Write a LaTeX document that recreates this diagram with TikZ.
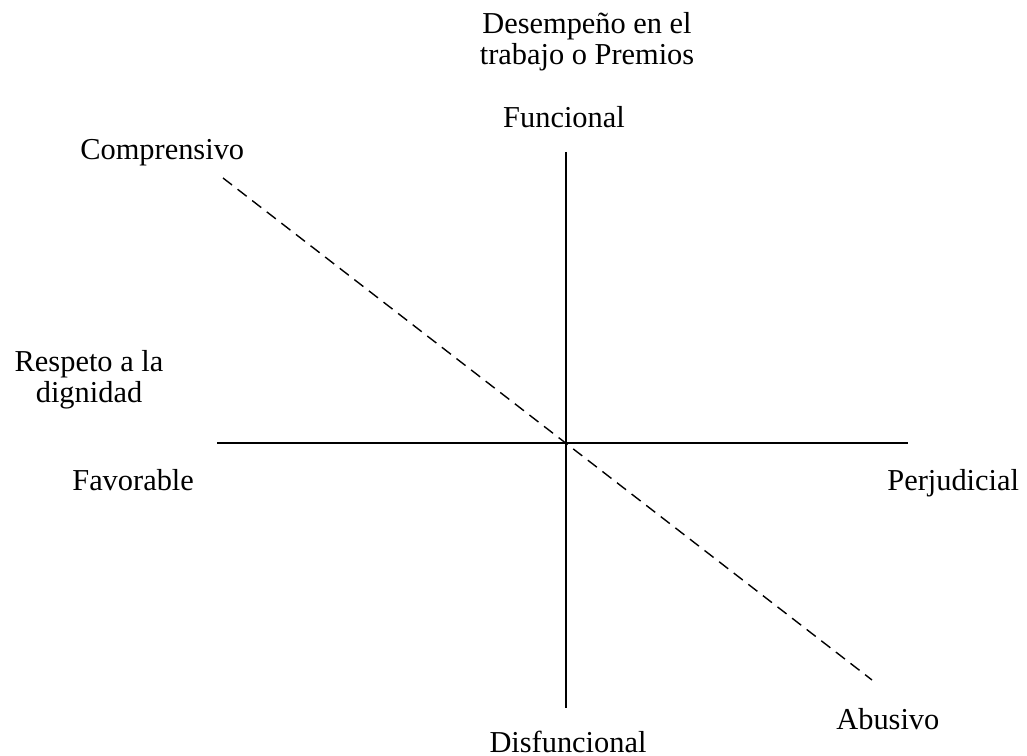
\documentclass[tikz,border=0pt]{standalone}
\usepackage{fontspec}
\setmainfont{Liberation Serif}
\usepackage{tikz}

\begin{document}
\begin{tikzpicture}[
  x=0.02cm, y=-0.02cm,
  lbl/.style={inner sep=0pt, font=\fontsize{17.3}{18.2}\selectfont},
  multi/.style={lbl, align=center, anchor=base},
  axis/.style={line width=0.8pt},
  diag/.style={line width=0.8pt, dash pattern=on 6.5pt off 4pt}
]
  \useasboundingbox (0,0) rectangle (1027,756);

  % Axis ends
  \coordinate (top)    at (566,152);
  \coordinate (bottom) at (566,708);
  \coordinate (left)   at (217,443);
  \coordinate (right)  at (908,443);
  \coordinate (cs)     at (223,178);
  \coordinate (ab)     at (872,680);

  % Labels (multi-line nodes sit on their last baseline)
  \node[multi] (perf) at (587,65) {Desempeño en el\\trabajo o Premios};
  \node[lbl, anchor=base] (fun) at (564,128) {Funcional};
  \node[lbl, anchor=base] (dis) at (568,752) {Disfuncional};
  \node[lbl, anchor=base west] (comp) at (80,160) {Comprensivo};
  \node[lbl, anchor=base west] (abu) at (836,729) {Abusivo};
  \node[multi] (resp) at (89,403) {Respeto a la\\dignidad};
  \node[lbl, anchor=base west] (fav) at (72,490) {Favorable};
  \node[lbl, anchor=base west] (per) at (887,490) {Perjudicial};

  % Axes
  \draw[axis] (top) -- (bottom);
  \draw[axis] (left) -- (right);
  \draw[diag] (cs) -- (ab);
\end{tikzpicture}
\end{document}
